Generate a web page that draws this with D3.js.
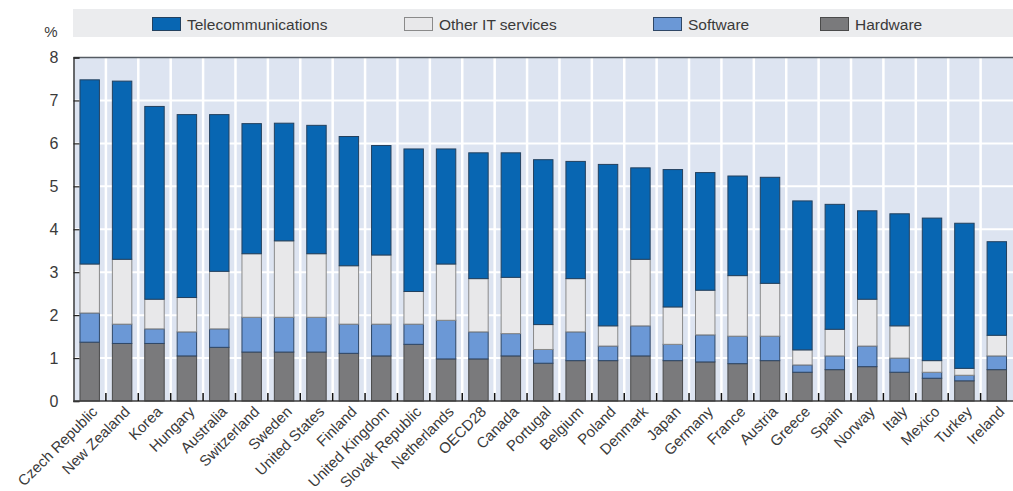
<!DOCTYPE html>
<html>
<head>
<meta charset="utf-8">
<script src="https://cdn.jsdelivr.net/npm/d3@7/dist/d3.min.js"></script>
<style>
  html, body { margin: 0; padding: 0; background: #ffffff; }
  svg { display: block; font-family: "Liberation Sans", Arial, Helvetica, sans-serif; }
</style>
</head>
<body>
<svg id="chart" width="1013" height="491"></svg>
<script>
// ICT sector value added by segment, % of business sector value added
const countries = ["Czech Republic", "New Zealand", "Korea", "Hungary", "Australia", "Switzerland",
  "Sweden", "United States", "Finland", "United Kingdom", "Slovak Republic", "Netherlands", "OECD28",
  "Canada", "Portugal", "Belgium", "Poland", "Denmark", "Japan", "Germany", "France", "Austria",
  "Greece", "Spain", "Norway", "Italy", "Mexico", "Turkey", "Ireland"];

const hardware = [1.37, 1.34, 1.34, 1.05, 1.25, 1.14, 1.14, 1.14, 1.11, 1.05, 1.32, 0.98, 0.98,
  1.05, 0.88, 0.94, 0.94, 1.05, 0.94, 0.91, 0.87, 0.94, 0.67, 0.73, 0.80, 0.67, 0.53, 0.47, 0.73];
const software = [0.68, 0.45, 0.34, 0.56, 0.43, 0.81, 0.81, 0.81, 0.68, 0.74, 0.47, 0.90, 0.63,
  0.52, 0.32, 0.67, 0.34, 0.70, 0.38, 0.63, 0.64, 0.57, 0.17, 0.32, 0.48, 0.33, 0.14, 0.13, 0.32];
const otherIT = [1.14, 1.51, 0.69, 0.80, 1.34, 1.48, 1.78, 1.48, 1.36, 1.61, 0.76, 1.31, 1.24,
  1.31, 0.58, 1.24, 0.47, 1.55, 0.87, 1.04, 1.41, 1.23, 0.35, 0.62, 1.09, 0.75, 0.27, 0.16, 0.48];
const telecom = [4.29, 4.15, 4.49, 4.26, 3.65, 3.03, 2.74, 2.99, 3.01, 2.55, 3.32, 2.68, 2.93,
  2.90, 3.84, 2.73, 3.76, 2.13, 3.20, 2.74, 2.32, 2.47, 3.47, 2.91, 2.06, 2.61, 3.32, 3.38, 2.18];

const seriesNames = ["Hardware", "Software", "Other IT services", "Telecommunications"];
const legendOrder = ["Telecommunications", "Other IT services", "Software", "Hardware"];
const yTicks = [0, 1, 2, 3, 4, 5, 6, 7, 8];

const colors = {
  "Telecommunications": "#0866b2",
  "Other IT services": "#e8e8ea",
  "Software": "#6b98d6",
  "Hardware": "#7a7a7c"
};
const strokes = {
  "Telecommunications": "#23415f",
  "Other IT services": "#8a8a8a",
  "Software": "#2f4766",
  "Hardware": "#4a4a4a"
};

// Table built from the arrays above for the stack layout
const rows = countries.map((c, i) => ({
  country: c,
  "Hardware": hardware[i],
  "Software": software[i],
  "Other IT services": otherIT[i],
  "Telecommunications": telecom[i]
}));

const svg = d3.select("#chart");
const plot = { left: 73.5, right: 1013, top: 57.5, bottom: 401 };

const x = d3.scaleBand()
  .domain(countries)
  .range([plot.left, plot.right])
  .paddingInner(0.4)
  .paddingOuter(0.2);

const y = d3.scaleLinear().domain([0, 8]).range([plot.bottom, plot.top]);

// Legend band
svg.append("rect")
  .attr("x", 73).attr("y", 9)
  .attr("width", 940).attr("height", 28)
  .attr("fill", "#ebecee");

const legendX = { "Telecommunications": 152, "Other IT services": 404, "Software": 653, "Hardware": 820 };
const legend = svg.append("g").selectAll("g")
  .data(legendOrder)
  .join("g")
  .attr("transform", d => `translate(${legendX[d]},17)`);
legend.append("rect")
  .attr("x", 0.5).attr("y", 0.5)
  .attr("width", 28).attr("height", 13)
  .attr("fill", d => colors[d])
  .attr("stroke", d => strokes[d])
  .attr("stroke-width", 1);
legend.append("text")
  .attr("x", 35).attr("y", 12.5)
  .attr("font-size", 15.5)
  .attr("fill", "#3a3a3a")
  .text(d => d);

// Plot background
svg.append("rect")
  .attr("x", plot.left).attr("y", plot.top)
  .attr("width", plot.right - plot.left).attr("height", plot.bottom - plot.top)
  .attr("fill", "#dde4f1");

// Horizontal white grid lines
svg.append("g").selectAll("line")
  .data(yTicks.filter(t => t > 0 && t < 8))
  .join("line")
  .attr("x1", plot.left).attr("x2", plot.right)
  .attr("y1", d => y(d)).attr("y2", d => y(d))
  .attr("stroke", "#ffffff").attr("stroke-width", 2);

// Vertical white grid lines between categories
const step = x.step();
const boundaries = countries.slice(1).map(c => x(c) - step * x.paddingInner() / 2);
svg.append("g").selectAll("line")
  .data(boundaries)
  .join("line")
  .attr("x1", d => d).attr("x2", d => d)
  .attr("y1", plot.top).attr("y2", plot.bottom)
  .attr("stroke", "#ffffff").attr("stroke-width", 2.5);

// Stacked bars
const stack = d3.stack().keys(seriesNames);
const stacked = stack(rows);
svg.append("g").selectAll("g")
  .data(stacked)
  .join("g")
  .attr("fill", d => colors[d.key])
  .attr("stroke", d => strokes[d.key])
  .attr("stroke-width", 1)
  .selectAll("rect")
  .data(d => d)
  .join("rect")
  .attr("x", d => x(d.data.country))
  .attr("y", d => y(d[1]))
  .attr("width", x.bandwidth())
  .attr("height", d => y(d[0]) - y(d[1]));

// Axis frame: top border, left axis, bottom axis
svg.append("line")
  .attr("x1", plot.left).attr("x2", plot.right)
  .attr("y1", plot.top).attr("y2", plot.top)
  .attr("stroke", "#555b63").attr("stroke-width", 1.5);

const yAxis = d3.axisLeft(y).tickValues(yTicks).tickSize(-6).tickPadding(15)
  .tickFormat(d3.format("d"));
const yg = svg.append("g")
  .attr("transform", `translate(${plot.left},0)`)
  .call(yAxis);
yg.select(".domain").attr("stroke", "#3d3d3d").attr("stroke-width", 1.5);
yg.selectAll(".tick line").attr("stroke", "#222").attr("stroke-width", 1.2);
yg.selectAll(".tick text")
  .attr("font-size", 16)
  .attr("font-family", "Liberation Sans, Arial, sans-serif")
  .attr("fill", "#3a3a3a");

// Bottom axis with category-boundary ticks
const xg = svg.append("g").attr("transform", `translate(0,${plot.bottom})`);
xg.append("line")
  .attr("x1", plot.left).attr("x2", plot.right)
  .attr("stroke", "#3d3d3d").attr("stroke-width", 1.5);
xg.selectAll("line.bt")
  .data(boundaries)
  .join("line")
  .attr("class", "bt")
  .attr("x1", d => d).attr("x2", d => d)
  .attr("y1", 0).attr("y2", -8)
  .attr("stroke", "#111").attr("stroke-width", 1.5);

// Rotated category labels
xg.selectAll("text")
  .data(countries)
  .join("text")
  .attr("text-anchor", "end")
  .attr("font-size", 15)
  .attr("fill", "#3a3a3a")
  .attr("transform", d => `translate(${x(d) + x.bandwidth() / 2 + 5},${8}) rotate(-45)`)
  .attr("dy", "0.35em")
  .text(d => d);

// Unit label
svg.append("text")
  .attr("x", 51).attr("y", 37)
  .attr("text-anchor", "middle")
  .attr("font-size", 15)
  .attr("fill", "#3a3a3a")
  .text("%");
</script>
</body>
</html>
